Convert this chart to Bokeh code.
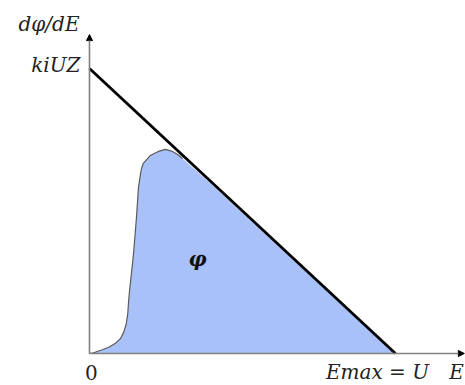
from bokeh.plotting import figure
from bokeh.models import Arrow, NormalHead, Range1d
from bokeh.core.properties import value
from bokeh.embed import file_html
from bokeh.resources import INLINE

# ---- data (E in units of Emax = U, dphi/dE in units of kiUZ) ----
line_E = [0.0, 1.0]
line_y = [1.0, 0.0]

spec_E = [0.0, 0.009, 0.042, 0.063, 0.085, 0.101, 0.112, 0.120, 0.125, 0.128,
          0.131, 0.144, 0.154, 0.160, 0.167, 0.170, 0.176, 0.199, 0.225, 0.248,
          0.271, 0.288, 0.304, 0.40, 0.55, 0.70, 0.85, 1.0]
spec_y = [0.0, 0.001, 0.013, 0.022, 0.036, 0.052, 0.075, 0.104, 0.139, 0.186,
          0.221, 0.351, 0.484, 0.582, 0.632, 0.649, 0.667, 0.695, 0.709, 0.716,
          0.709, 0.698, 0.684, 0.592, 0.443, 0.295, 0.146, 0.0]

y_axis_top = 1.119
x_axis_end = 1.225

FONT = "DejaVu Serif"

p = figure(width=465, height=385, output_backend="svg", toolbar_location=None,
           x_range=Range1d(-0.2908, 1.2288), y_range=Range1d(-0.1123, 1.2386),
           min_border=0, outline_line_color=None)
p.axis.visible = False
p.grid.visible = False
p.background_fill_color = "white"

# filled spectrum
p.varea(x=spec_E, y1=0, y2=spec_y, fill_color="#a9c1f9")
p.line(x=spec_E[:23], y=spec_y[:23], line_color="#5a5a5a", line_width=1.2)

# axes with arrows
axis_col = "#808080"
p.add_layout(Arrow(end=NormalHead(size=6, fill_color="black", line_color="black"),
                   x_start=0, y_start=0, x_end=0, y_end=y_axis_top,
                   line_color=axis_col, line_width=1.6))
p.add_layout(Arrow(end=NormalHead(size=6, fill_color="black", line_color="black"),
                   x_start=0, y_start=0, x_end=x_axis_end, y_end=0,
                   line_color=axis_col, line_width=1.6))

# limiting straight line
p.line(x=line_E, y=line_y, line_color="black", line_width=2.8)

# texts
p.text(x=[0], y=[1.0], text=["kiUZ"], text_font=value(FONT), text_font_style="italic",
       text_font_size="20px", text_align="right", text_baseline="middle",
       x_offset=-9, y_offset=-3, text_color="#222222")
p.text(x=[0], y=[y_axis_top], text=["dφ/dE"], text_font=value(FONT), text_font_style="italic",
       text_font_size="20px", text_align="right", text_baseline="middle",
       x_offset=-10, y_offset=-11, text_color="#222222")
p.text(x=[0], y=[0], text=["0"], text_font=value(FONT),
       text_font_size="20px", text_align="center", text_baseline="middle",
       x_offset=2, y_offset=19, text_color="#222222")
p.text(x=[1.0], y=[0], text=["Emax = U"], text_font=value(FONT), text_font_style="italic",
       text_font_size="20px", text_align="center", text_baseline="middle",
       x_offset=-18, y_offset=19, text_color="#222222")
p.text(x=[x_axis_end], y=[0], text=["E"], text_font=value(FONT), text_font_style="italic",
       text_font_size="20px", text_align="left", text_baseline="middle",
       x_offset=-15, y_offset=19, text_color="#222222")
p.text(x=[0.353], y=[0.333], text=["φ"], text_font=value(FONT), text_font_style="bold italic",
       text_font_size="20px", text_align="center", text_baseline="middle",
       text_color="#111111")

open("out.html", "w").write(file_html(p, INLINE))
